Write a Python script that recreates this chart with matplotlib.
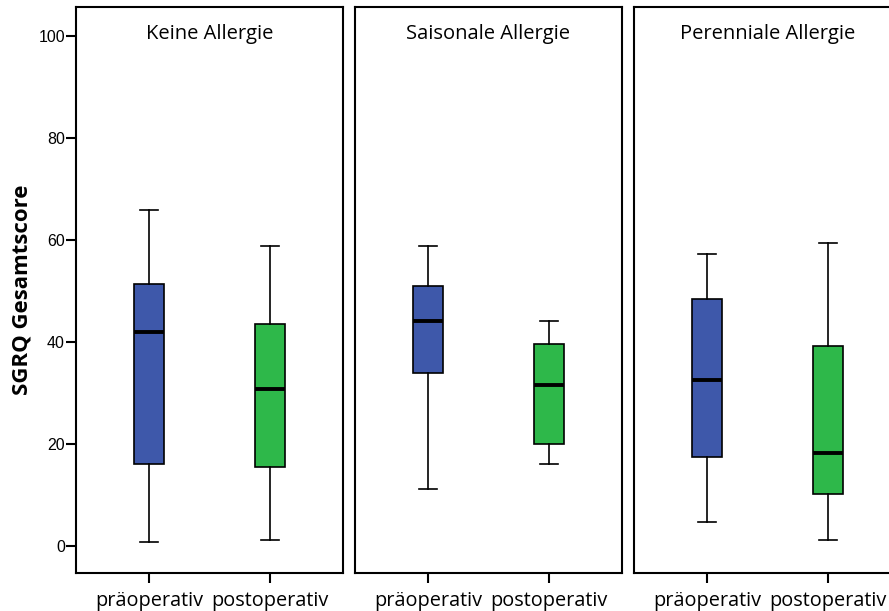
import matplotlib.pyplot as plt

# SGRQ total score before and after surgery, by allergy group
groups = ["Keine Allergie", "Saisonale Allergie", "Perenniale Allergie"]
phases = ["präoperativ", "postoperativ"]

# five-number summaries per group: (whisker low, Q1, median, Q3, whisker high)
keine_prae = (0.8, 16.0, 41.9, 51.4, 65.9)
keine_post = (1.1, 15.4, 30.8, 43.5, 58.8)
saison_prae = (11.2, 34.0, 44.2, 51.0, 58.9)
saison_post = (16.0, 20.0, 31.5, 39.7, 44.2)
perenn_prae = (4.7, 17.5, 32.6, 48.4, 57.2)
perenn_post = (1.1, 10.2, 18.3, 39.3, 59.5)

summaries = [
    (keine_prae, keine_post),
    (saison_prae, saison_post),
    (perenn_prae, perenn_post),
]
box_colors = ["#3E58AA", "#2EB84A"]
y_ticks = [0, 20, 40, 60, 80, 100]

fig = plt.figure(figsize=(8.89, 6.11), dpi=100)
lefts = [76 / 889, 355 / 889, 634 / 889]
bottom = 38 / 611
height = 566 / 611
width = 267 / 889

for i, (name, pair) in enumerate(zip(groups, summaries)):
    ax = fig.add_axes([lefts[i], bottom, width, height])
    stats = []
    for lab, s in zip(phases, pair):
        lo, q1, med, q3, hi = s
        stats.append(dict(label=lab, whislo=lo, q1=q1, med=med, q3=q3,
                          whishi=hi, fliers=[]))
    bp = ax.bxp(stats, positions=[1, 2], widths=0.25, patch_artist=True,
                showfliers=False,
                boxprops=dict(edgecolor="black", linewidth=1.2),
                medianprops=dict(color="black", linewidth=2.8),
                whiskerprops=dict(color="black", linewidth=1.2),
                capprops=dict(color="black", linewidth=1.2),
                capwidths=0.15)
    for patch, c in zip(bp["boxes"], box_colors):
        patch.set_facecolor(c)

    ax.set_xlim(0.4, 2.6)
    ax.set_ylim(-5.3, 105.7)
    for sp in ax.spines.values():
        sp.set_linewidth(1.5)
    ax.set_xticks([1, 2])
    ax.set_xticklabels(phases, fontfamily="Open Sans", fontsize=14.3)
    ax.tick_params(axis="x", length=7, width=1.5, pad=6)
    if i == 0:
        ax.set_yticks(y_ticks)
        ax.set_yticklabels([str(t) for t in y_ticks],
                           fontfamily="Liberation Sans", fontsize=11.5)
        ax.tick_params(axis="y", length=7, width=1.5, pad=1)
        ax.set_ylabel("SGRQ Gesamtscore", fontfamily="Open Sans",
                      fontweight="bold", fontsize=16, labelpad=4)
    else:
        ax.set_yticks([])
    ax.text(0.5, 0.952, name, transform=ax.transAxes, ha="center", va="center",
            fontfamily="Open Sans", fontsize=14.5)

fig.savefig("out.png", dpi=100)
